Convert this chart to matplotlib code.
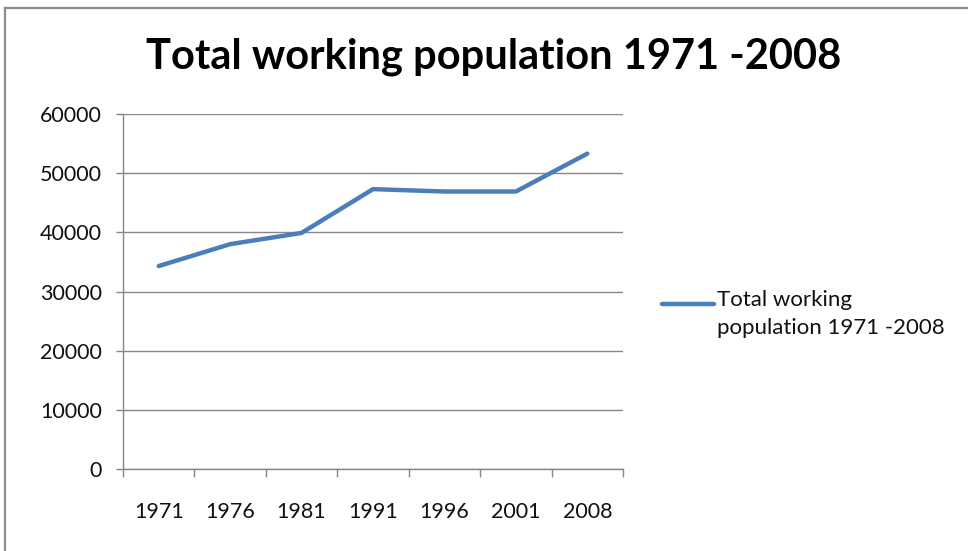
import matplotlib
matplotlib.use('Agg')
import matplotlib.pyplot as plt
from matplotlib.lines import Line2D
import numpy as np

# data
years = ['1971', '1976', '1981', '1991', '1996', '2001', '2008']
working_pop = [34300, 38000, 39900, 47300, 46900, 46900, 53300]
yticks = [0, 10000, 20000, 30000, 40000, 50000, 60000]
series_name = 'Total working\npopulation 1971 -2008'
title = 'Total working population 1971 -2008'

plt.rcParams['font.family'] = ['Lato', 'DejaVu Sans']

W, H = 968, 551
fig = plt.figure(figsize=(W/100, H/100), dpi=100)
fig.patch.set_facecolor('white')

# axes placed in pixel terms of the reference
ax = fig.add_axes([123/W, 1-469/H, (623-123)/W, (469-114)/H])

x = np.arange(len(years)) + 0.5
ax.plot(x, working_pop, color='#4A7EBB', lw=3.2, solid_capstyle='round',
        solid_joinstyle='round', zorder=3)

ax.set_xlim(0, len(years))
ax.set_ylim(0, 60000)
ax.set_yticks(yticks)
ax.set_yticklabels([str(v) for v in yticks])
ax.set_xticks(x)
ax.set_xticklabels(years)
ax.set_xticks(np.arange(len(years)+1), minor=True)

grid_c = '#868686'
ax.grid(axis='y', color=grid_c, lw=1.0)
ax.set_axisbelow(True)
for s in ['top', 'right']:
    ax.spines[s].set_visible(False)
for s in ['left', 'bottom']:
    ax.spines[s].set_color(grid_c)
    ax.spines[s].set_linewidth(1.0)

ax.tick_params(axis='y', length=5, width=1, color=grid_c, pad=10,
               labelsize=15.5, labelcolor='#111111')
ax.tick_params(axis='x', which='major', length=0, pad=24,
               labelsize=15.5, labelcolor='#111111')
ax.tick_params(axis='x', which='minor', length=6, width=1, color=grid_c)

fig.text(494/W, 1-57/H, title, ha='center', va='center',
         fontsize=30, fontweight='bold', color='black')

# legend drawn like the Excel one: sample next to first line of label
fig.add_artist(Line2D([662/W, 714/W], [1-304/H, 1-304/H], color='#4A7EBB',
                      lw=3.2, solid_capstyle='round'))
fig.text(717/W, 1-290/H, series_name, ha='left', va='top', fontsize=16,
         color='#111111', linespacing=1.5)

# outer chart frame (only left and top edges are visible in the reference)
frame_c = '#8c8c8c'
fig.add_artist(Line2D([5/W, 5/W], [0, 1-8/H], color=frame_c, lw=1.6))
fig.add_artist(Line2D([5/W, 1], [1-8/H, 1-8/H], color=frame_c, lw=1.6))

fig.savefig('out.png', dpi=100)
plt.close(fig)
